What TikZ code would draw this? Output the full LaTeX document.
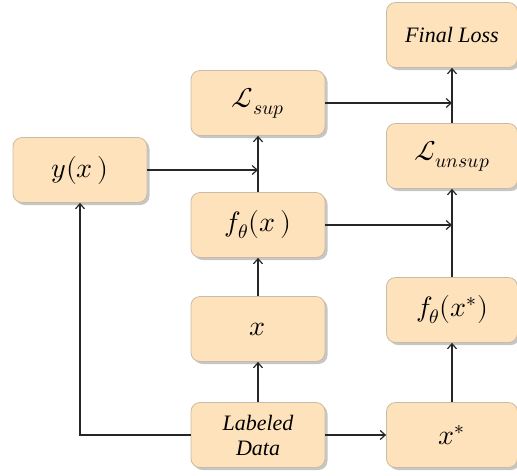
\documentclass[tikz,border=0pt]{standalone}
\usepackage{fontspec}
\usepackage{unicode-math}
\setmathfont{Latin Modern Math}
\newfontfamily\txtfont{Liberation Serif}
\usetikzlibrary{arrows.meta,shadows}
\definecolor{boxfill}{HTML}{FDE2BB}
\definecolor{boxdraw}{HTML}{C9BBA6}
\definecolor{linecol}{HTML}{262626}
\tikzset{
  blk/.style={draw=boxdraw, line width=0.8pt, fill=boxfill, rounded corners=9pt,
    minimum width=134pt, minimum height=65pt, inner sep=0pt, align=center,
    drop shadow={opacity=0.45, shadow xshift=2.5pt, shadow yshift=-2.5pt}},
  mtext/.style={font=\fontsize{28}{32}\selectfont},
  ttext/.style={font=\txtfont\itshape\fontsize{22}{25}\selectfont},
  conn/.style={draw=linecol, line width=1.3pt, -{Straight Barb[length=5pt,width=9pt,line width=1.2pt]}},
  plain/.style={draw=linecol, line width=1.3pt}
}
\begin{document}
\begin{tikzpicture}[x=1pt,y=1pt]
\useasboundingbox (0,0) rectangle (517,-475);
\node[blk,ttext,minimum width=131pt] (final) at (452,-35) {Final Loss};
\node[blk,mtext,minimum width=131pt] (lunsup) at (452,-156) {$\mathcal{L}_{unsup}$};
\node[blk,mtext,minimum width=131pt] (fxs) at (452,-310) {$f_{\theta}(x^{*})$};
\node[blk,mtext,minimum width=131pt] (xs) at (452,-435) {$x^{*}$};
\node[blk,mtext] (lsup) at (258,-103) {$\mathcal{L}_{sup}$};
\node[blk,mtext] (yx) at (80,-170) {$y(x\,)$};
\node[blk,mtext] (fx) at (258,-225) {$f_{\theta}(x\,)$};
\node[blk,mtext] (x) at (258,-329) {$x$};
\node[blk,ttext] (ld) at (258,-435) {Labeled\\Data};
\draw[conn] (ld.north) -- (x.south);
\draw[conn] (x.north) -- (fx.south);
\draw[conn] (fx.north) -- (lsup.south);
\draw[conn] (yx.east) -- (yx.east -| lsup.south);
\draw[conn] (lsup.east) -- (lsup.east -| final.south);
\draw[conn] (fx.east) -- (fx.east -| lunsup.south);
\draw[conn] (ld.west) -| (yx.south);
\draw[conn] (ld.east) -- (xs.west);
\draw[conn] (xs.north) -- (fxs.south);
\draw[conn] (fxs.north) -- (lunsup.south);
\draw[conn] (lunsup.north) -- (final.south);
\end{tikzpicture}
\end{document}
